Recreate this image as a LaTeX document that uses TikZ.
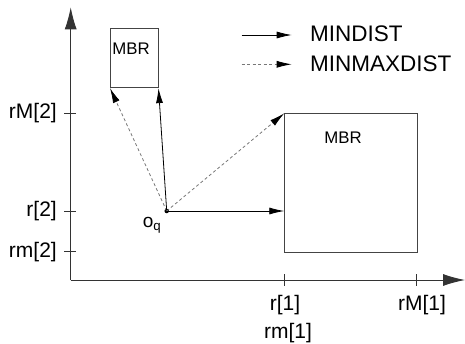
\documentclass[tikz,border=0pt]{standalone}
\usepackage{fontspec}
\setmainfont{Liberation Sans}
\usetikzlibrary{arrows.meta,positioning,calc}
\definecolor{axisc}{HTML}{333333}
\definecolor{boxc}{HTML}{444444}
\definecolor{dashc}{HTML}{777777}
\tikzset{
  >={Latex[length=15pt,width=7pt]},
  axis/.style={draw=axisc,line width=0.9pt,-{Latex[length=22pt,width=12pt]}},
  tick/.style={draw=axisc,line width=0.8pt},
  mbr/.style={draw=boxc,line width=0.8pt,inner sep=0pt,anchor=north west},
  mbrtxt/.style={font=\fontsize{16.8}{20}\selectfont,inner sep=0pt},
  ticktxt/.style={font=\fontsize{21}{25}\selectfont,inner sep=0pt},
  legtxt/.style={font=\fontsize{22.5}{27}\selectfont,inner sep=0pt,anchor=west},
  mind/.style={->,draw=black,line width=0.8pt},
  minmax/.style={-{Latex[length=15pt,width=7pt,color=black]},draw=dashc,line width=0.8pt,dash pattern=on 3pt off 2.5pt},
}
\begin{document}
\begin{tikzpicture}[x=1pt,y=-1pt]
  \useasboundingbox (0,0) rectangle (465,343);
  % axes
  \coordinate (O) at (70.7,280);
  \coordinate (ytop) at (70.7,7.3);
  \coordinate (xend) at (465,280);
  \draw[axis] (O) -- (ytop);
  \draw[axis] (O) -- (xend);
  % boxes
  \node[mbr,minimum width=47.7pt,minimum height=59.6pt] (mbrs) at (110,27.7) {};
  \node[mbr,minimum width=132.4pt,minimum height=138.4pt] (mbrb) at (284.3,113.3) {};
  \node[mbrtxt] (mbrs-l) at (131,49) {MBR};
  \node[mbrtxt] (mbrb-l) at (343,137.5) {MBR};
  % query point
  \node[circle,fill=black,inner sep=0pt,minimum size=4.5pt] (oq) at (166.7,211) {};
  \node[font=\fontsize{19}{22}\selectfont,inner sep=0pt] (oq-l) at (152,225) {o\textsubscript{q}};
  % ticks y
  \foreach \y/\t [count=\i] in {113.3/rM[2],211/r[2],251.7/rm[2]} {
    \draw[tick] (64,\y) -- (76,\y);
    \node[ticktxt,anchor=east] (ylab-\i) at (57,\y) {\t};}
  % ticks x
  \foreach \x in {284.3,416.7} \draw[tick] (\x,274) -- (\x,286);
  \node[ticktxt] (xlab-1) at (285,305) {r[1]};
  \node[ticktxt] (xlab-2) at (288,333) {rm[1]};
  \node[ticktxt] (xlab-3) at (422,305) {rM[1]};
  % distances
  \draw[minmax] (oq.center) -- (mbrs.south west);
  \draw[mind] (oq.center) -- (mbrs.south east);
  \draw[minmax] (oq.center) -- (mbrb.north west);
  \draw[mind] (oq.center) -- (mbrb.west |- oq);
  % legend
  \node[legtxt] (leg-1) at (310,33.5) {MINDIST};
  \node[legtxt] (leg-2) at (310,63.5) {MINMAXDIST};
  \draw[mind] ([shift={(-68.3,1.5)}]leg-1.west) -- ([shift={(-18.3,1.5)}]leg-1.west);
  \draw[minmax] ([shift={(-68.3,0.8)}]leg-2.west) -- ([shift={(-18.3,0.8)}]leg-2.west);
\end{tikzpicture}
\end{document}
